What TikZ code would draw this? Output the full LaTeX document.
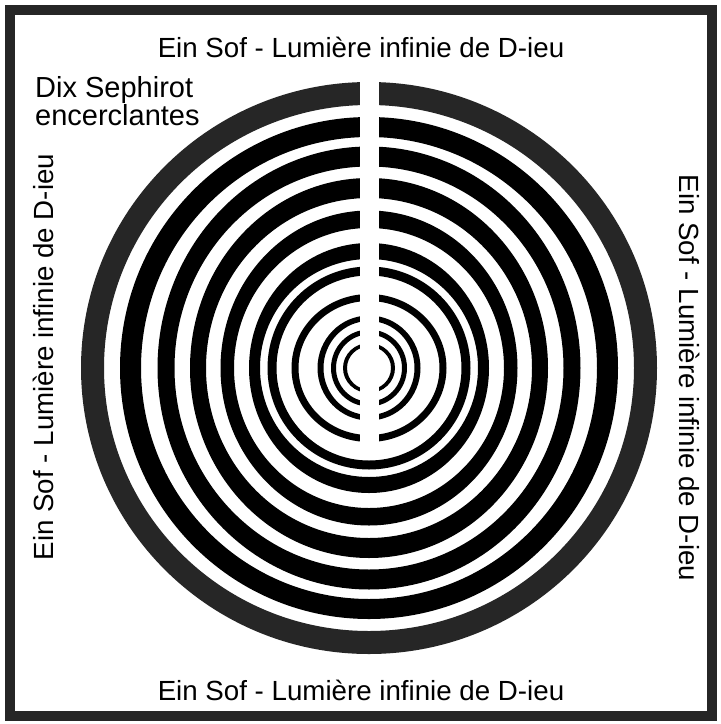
\documentclass[tikz,border=0pt]{standalone}
\usepackage{fontspec}
\setmainfont{Liberation Sans}
\begin{document}
\begin{tikzpicture}[x=1pt,y=-1pt]
\definecolor{ringgray}{HTML}{262626}
\tikzset{
  labeltext/.style={font=\fontsize{27.7}{27.7}\selectfont, inner sep=0pt},
  ringfill/.style={fill=#1, even odd rule}
}
\useasboundingbox (0,0) rectangle (721,724);
\fill[white] (0,0) rectangle (721,724);
\draw[ringgray, line width=10pt] (10,10) rectangle (712,716);
\coordinate (c) at (369,368);
\foreach \rx/\ry/\tx/\ty/\col in {
  288/286/23/23/ringgray,
  249/251/21/20/black,
  211.5/221.5/17/20/black,
  179/190/16/20/black,
  148.5/157.5/13.5/17.5/black,
  120/125/11/16/black,
  101.5/101.5/9/9/black,
  77.5/74/7/7/black,
  51.5/52.5/6/5.5/black,
  38/38.5/5/5/black,
  26/25/4/3.5/black}{
  \pgfmathsetmacro\irx{\rx-\tx}
  \pgfmathsetmacro\iry{\ry-\ty}
  \fill[ringfill=\col] (c) ellipse [x radius=\rx pt, y radius=\ry pt]
        (c) ellipse [x radius=\irx pt, y radius=\iry pt];
}
\fill[white] (359.5,75) rectangle (378.5,445);
\node[labeltext] (top) at (361,47) {Ein Sof - Lumière infinie de D-ieu};
\node[labeltext] (bottom) at (361,690) {Ein Sof - Lumière infinie de D-ieu};
\node[labeltext, rotate=90] (left) at (43,357) {Ein Sof - Lumière infinie de D-ieu};
\node[labeltext, rotate=-90] (right) at (690,378) {Ein Sof - Lumière infinie de D-ieu};
\node[labeltext, font=\fontsize{29}{24.5}\selectfont, align=left, anchor=north west] (dix) at (35,76) {Dix Sephirot\\encerclantes};
\end{tikzpicture}
\end{document}
